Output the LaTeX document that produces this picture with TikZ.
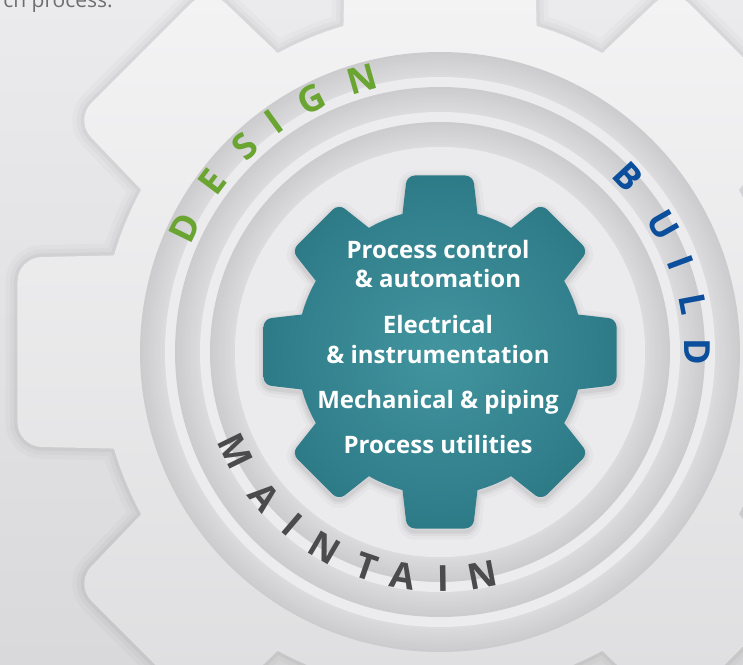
\documentclass[tikz,border=0pt]{standalone}
\usepackage{fontspec}
\setmainfont{Open Sans}
\definecolor{bgA}{HTML}{EBEBED}
\definecolor{bgB}{HTML}{D9D9DB}
\definecolor{gearA}{HTML}{F5F5F6}
\definecolor{gearB}{HTML}{DCDCDE}
\definecolor{disc}{HTML}{EBEBED}
\definecolor{gapc}{HTML}{ECECEE}
\definecolor{bandin}{HTML}{DBDBDD}
\definecolor{bandout}{HTML}{CCCCCE}
\definecolor{tealA}{HTML}{42959F}
\definecolor{tealB}{HTML}{307E8B}
\definecolor{tealC}{HTML}{1D5B6A}
\definecolor{dgreen}{HTML}{6AA431}
\definecolor{dblue}{HTML}{0B4E9C}
\definecolor{dgrey}{HTML}{4B4B4D}
\definecolor{capgrey}{HTML}{6E6E70}
\pgfdeclareradialshading{tealshade}{\pgfpoint{0bp}{0bp}}{color(0bp)=(tealA); color(22bp)=(tealB); color(50bp)=(tealC)}
% gear outlines: body circle plus eight tooth polygons (union)
\def\BigGear{(0,0) circle[radius=340pt] \foreach \i in {0,...,7}{ (\i*45-18.56:305.9) -- (\i*45-12.6:433) -- (\i*45+12.6:433) -- (\i*45+18.56:305.9) -- cycle}}
\def\SmallGear{(0,0) circle[radius=143pt] \foreach \i in {0,...,7}{ (\i*45-18.26:126.4) -- (\i*45-10.6:179.6) -- (\i*45+10.6:179.6) -- (\i*45+18.26:126.4) -- cycle}}
\tikzset{
  itemtext/.style={font=\fontsize{24}{29}\selectfont\bfseries, text=white, inner sep=0pt, anchor=base},
  arcletter/.style={font=\fontsize{36}{38}\selectfont\bfseries, inner sep=0pt, anchor=center},
  captext/.style={font=\fontsize{21}{25}\selectfont, text=capgrey, inner sep=0pt, anchor=base east}
}
\begin{document}
\begin{tikzpicture}[x=1pt,y=1pt]
\useasboundingbox (-440,-312) rectangle (303,352);
\clip (-440,-312) rectangle (303,352);
\shade[top color=bgA, bottom color=bgB] (-440,-312) rectangle (303,352);
% big gear with soft halo
\foreach \w/\o in {24/0.018,15/0.025,7/0.035} {\draw[line width=\w pt, black, opacity=\o, rounded corners=24pt] \BigGear;}
\shade[top color=gearA, bottom color=gearB, rounded corners=24pt] \BigGear;
% grooved rings
\foreach \ro/\ri/\nx in {300/275/275,265/240/240,230/205/205} {
  \foreach \j in {0,...,9} {
    \pgfmathsetmacro\rr{\ro-\j*(\ro-\ri)/10}
    \pgfmathtruncatemacro\pp{\j*11}
    \fill[bandin!\pp!bandout] (0,0) circle[radius=\rr pt];
  }
  \fill[gapc] (0,0) circle[radius=\nx pt];
}
\fill[disc] (0,0) circle[radius=205pt];
% teal gear
\foreach \w/\o in {16/0.025,9/0.035,4/0.05} {\draw[line width=\w pt, black, opacity=\o, rounded corners=8pt, yshift=-3pt] \SmallGear;}
\shade[shading=tealshade, rounded corners=8pt] \SmallGear;
% centre text
\node[itemtext] (l1) at (-2,94) {Process control};
\node[itemtext] (l2) at (-2,65) {\& automation};
\node[itemtext] (l3) at (-2,19) {Electrical};
\node[itemtext] (l4) at (-2,-11) {\& instrumentation};
\node[itemtext] (l5) at (-2,-56) {Mechanical \& piping};
\node[itemtext] (l6) at (-2,-101) {Process utilities};
% arc words
\foreach \l/\a [count=\k, evaluate=\a as \r using \a-90] in {D/154,E/143.2,S/133.5,I/125.8,G/117,N/105.9}
  \node[arcletter, text=dgreen, rotate=\r] (design\k) at (\a:284) {\l};
\foreach \l/\a [count=\k, evaluate=\a as \r using \a-90] in {B/43,U/29.7,I/20.4,L/10.7,D/0}
  \node[arcletter, text=dblue, rotate=\r] (build\k) at (\a:257) {\l};
\foreach \l/\a [count=\k, evaluate=\a as \r using \a+90] in {M/206,A/219.5,I/229.5,N/239.5,T/251,A/260.7,I/270.8,N/280.8}
  \node[arcletter, text=dgrey, rotate=\r] (maint\k) at (\a:227) {\l};
% cut caption at top
\node[captext] (cap) at (-327,344) {ch process.};
\end{tikzpicture}
\end{document}
